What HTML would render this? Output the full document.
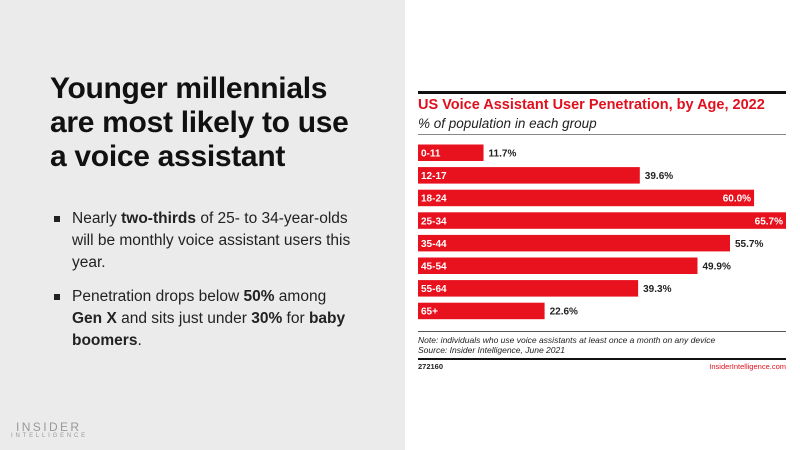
<!DOCTYPE html>
<html><head><meta charset="utf-8"><style>
body{margin:0;width:800px;height:450px;position:relative;overflow:hidden;font-family:"Liberation Sans",sans-serif;background:#fff}
.left{position:absolute;left:0;top:0;width:405px;height:450px;background:#ebebeb}
h1{position:absolute;left:50px;top:72px;margin:0;font-size:30px;line-height:34px;font-weight:bold;color:#111;letter-spacing:-0.3px}
ul{position:absolute;left:50px;top:208px;margin:0;padding:0;list-style:none;font-size:15.5px;line-height:22px;color:#222;width:310px}
li{position:relative;padding-left:22px;margin-bottom:12px}
li:before{content:"";position:absolute;left:4px;top:8px;width:6px;height:6px;background:#222}
.logo1{position:absolute;left:16px;top:420px;font-size:12px;letter-spacing:2.4px;color:#999}
.logo2{position:absolute;left:11px;top:433px;font-size:6px;letter-spacing:2.8px;color:#999}
</style></head><body>
<div class="left">
<h1>Younger millennials<br>are most likely to use<br>a voice assistant</h1>
<ul>
<li>Nearly <b>two-thirds</b> of 25- to 34-year-olds will be monthly voice assistant users this year.</li>
<li>Penetration drops below <b>50%</b> among <b>Gen X</b> and sits just under <b>30%</b> for <b>baby boomers</b>.</li>
</ul>
<div class="logo1">INSIDER</div>
<div class="logo2">INTELLIGENCE</div>
</div>
<svg id="chart" width="800" height="450" style="position:absolute;left:0;top:0" font-family="Liberation Sans, sans-serif">
<rect x="418" y="91" width="368" height="3" fill="#111"/>
<text x="418" y="109" font-size="14.5" font-weight="bold" fill="#e0101e">US Voice Assistant User Penetration, by Age, 2022</text>
<text x="418" y="128" font-size="13.5" font-style="italic" fill="#222">% of population in each group</text>
<rect x="418" y="134" width="368" height="1" fill="#888"/>
<g id="bars"></g>
<rect x="418" y="331" width="368" height="1" fill="#555"/>
<text x="418" y="343" font-size="8.5" font-style="italic" fill="#222">Note: individuals who use voice assistants at least once a month on any device</text>
<text x="418" y="353" font-size="8.5" font-style="italic" fill="#222">Source: Insider Intelligence, June 2021</text>
<rect x="418" y="358" width="368" height="2" fill="#111"/>
<text x="418" y="369" font-size="7.5" font-weight="bold" fill="#222">272160</text>
<text x="786" y="369" font-size="7.5" text-anchor="end" fill="#e0101e">InsiderIntelligence.com</text>
</svg>
<script>
const categories=["0-11","12-17","18-24","25-34","35-44","45-54","55-64","65+"];
const values=[11.7,39.6,60.0,65.7,55.7,49.9,39.3,22.6];
const labels=["11.7%","39.6%","60.0%","65.7%","55.7%","49.9%","39.3%","22.6%"];
const x0=418,pxPer=368/65.7,y0=144.5,pitch=22.6,bh=16.5;
const xs=v=>v*pxPer, ys=i=>y0+i*pitch;
const g=document.getElementById('bars'),NS="http://www.w3.org/2000/svg";
categories.forEach((c,i)=>{
 const w=xs(values[i]),y=ys(i);
 const r=document.createElementNS(NS,'rect');
 r.setAttribute('x',x0);r.setAttribute('y',y);r.setAttribute('width',w);r.setAttribute('height',bh);r.setAttribute('fill','#e8111e');
 
 
 g.appendChild(r);
 const t=document.createElementNS(NS,'text');
 t.setAttribute('x',x0+3);t.setAttribute('y',y+12);t.setAttribute('font-size','10');t.setAttribute('font-weight','bold');t.setAttribute('fill','#fff');t.textContent=c;
 
 
 g.appendChild(t);
 const inside=values[i]>=58;
 const v=document.createElementNS(NS,'text');
 v.setAttribute('x',inside?x0+w-3:x0+w+5);v.setAttribute('y',y+12);v.setAttribute('font-size','10');v.setAttribute('font-weight','bold');
 v.setAttribute('fill',inside?'#fff':'#222');v.setAttribute('text-anchor',inside?'end':'start');v.textContent=labels[i];
 
 
 g.appendChild(v);
});
</script>
</body></html>
